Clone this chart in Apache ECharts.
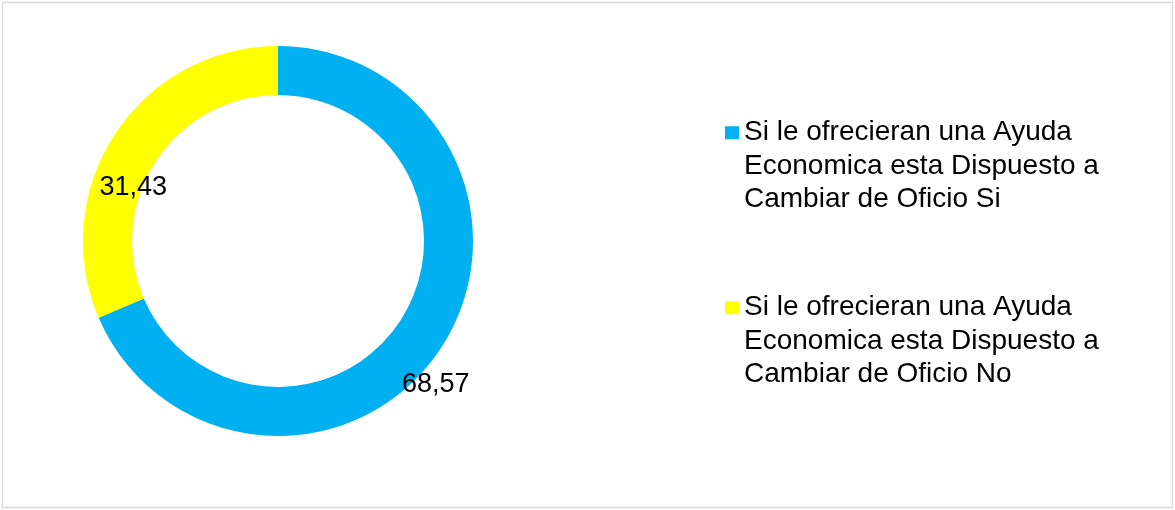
<!DOCTYPE html>
<html>
<head>
    <meta charset="UTF-8">
    <title>Ayuda Economica - Cambiar de Oficio</title>
    <script src="https://cdn.jsdelivr.net/npm/echarts@6/dist/echarts.min.js"></script>
    <style>
        html, body { margin: 0; padding: 0; background: #fff; }
        #chart { width: 1175px; height: 510px; }
    </style>
</head>
<body>
<div id="chart"></div>
<script>
// datos de la encuesta (porcentaje)
const categories = [
    'Si le ofrecieran una Ayuda Economica esta Dispuesto a Cambiar de Oficio Si',
    'Si le ofrecieran una Ayuda Economica esta Dispuesto a Cambiar de Oficio No'
];
const values = [68.57, 31.43];
const colors = ['#00b0f0', '#ffff00'];
// desplazamiento de etiquetas como en el original de Excel
const labelOffsets = [[13, 48], [0, 42]];

const chart = echarts.init(document.getElementById('chart'));

const option = {
    animation: false,
    graphic: [{
        type: 'rect',
        shape: { x: 2.5, y: 2.5, width: 1170, height: 505 },
        style: { fill: 'none', stroke: '#d9d9d9', lineWidth: 1.3 },
        silent: true
    }],
    legend: {
        orient: 'vertical',
        left: 725,
        top: 49,
        padding: 0,
        itemGap: 7.5,
        itemWidth: 14,
        itemHeight: 13,
        icon: 'rect',
        data: categories,
        selectedMode: false,
        // dos lineas vacias arriba para que el icono quede en la primera linea
        formatter: name => '\n\n' + name,
        textStyle: {
            fontFamily: 'Liberation Sans, Arial, sans-serif',
            fontSize: 28,
            color: '#000',
            lineHeight: 33.5,
            width: 370,
            overflow: 'break'
        }
    },
    series: [{
        type: 'pie',
        center: [278, 241],
        radius: [146, 195],
        startAngle: 90,
        clockwise: true,
        avoidLabelOverlap: false,
        silent: true,
        label: {
            show: true,
            position: 'inside',
            fontFamily: 'Liberation Sans, Arial, sans-serif',
            fontSize: 27,
            color: '#000',
            formatter: p => p.value.toFixed(2).replace('.', ',')
        },
        labelLine: { show: false },
        data: categories.map((name, i) => ({
            name: name,
            value: values[i],
            itemStyle: { color: colors[i] },
            label: { offset: labelOffsets[i] }
        }))
    }]
};

chart.setOption(option);
</script>
</body>
</html>
